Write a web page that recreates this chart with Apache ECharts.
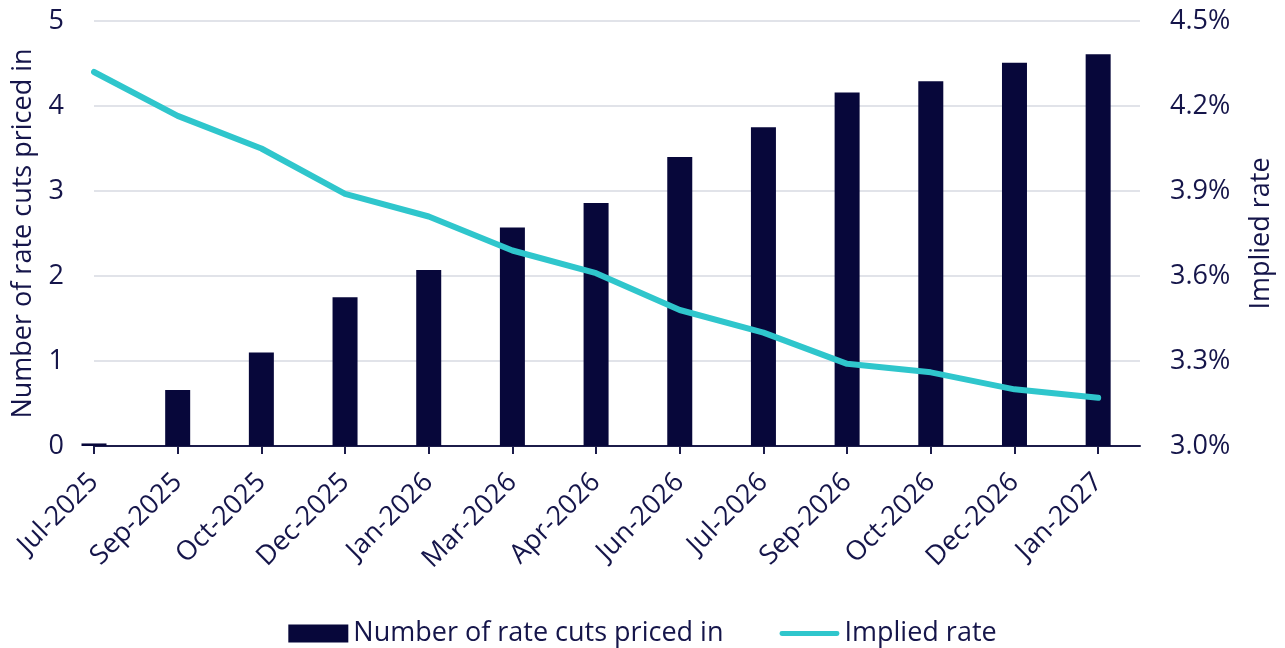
<!DOCTYPE html>
<html>
<head>
<meta charset="utf-8">
<script src="https://cdn.jsdelivr.net/npm/echarts@6/dist/echarts.min.js"></script>
<style>html,body{margin:0;padding:0;background:#fff}#c{width:1285px;height:648px}</style>
</head>
<body>
<div id="c"></div>
<script>
const categories = ['Jul-2025','Sep-2025','Oct-2025','Dec-2025','Jan-2026','Mar-2026','Apr-2026','Jun-2026','Jul-2026','Sep-2026','Oct-2026','Dec-2026','Jan-2027'];
const rateCuts = [0.03, 0.66, 1.10, 1.75, 2.07, 2.57, 2.86, 3.40, 3.75, 4.16, 4.29, 4.51, 4.61];
const impliedRate = [4.32, 4.165, 4.05, 3.89, 3.81, 3.69, 3.61, 3.48, 3.40, 3.29, 3.26, 3.20, 3.17];
const leftTicks = [0, 1, 2, 3, 4, 5];
const rightTicks = [3.0, 3.3, 3.6, 3.9, 4.2, 4.5];

const navy = '#07073a';
const textColor = '#15154a';
const teal = '#2fc6cc';
const font = 'Open Sans';
const fs = 27;
const idx = categories.map((c, i) => i);

const chart = echarts.init(document.getElementById('c'));
chart.setOption({
  animation: false,
  textStyle: { fontFamily: font, color: textColor },
  grid: { left: 94, right: 145, top: 21, bottom: 202, containLabel: false },
  legend: {
    top: 615,
    left: 'center',
    itemWidth: 60,
    itemHeight: 18,
    itemGap: 56,
    symbolKeepAspect: true,
    textStyle: { fontFamily: font, fontSize: fs, color: textColor },
    data: [
      { name: 'Number of rate cuts priced in', icon: 'rect' },
      { name: 'Implied rate', icon: 'path://M4,0 L96,0 A4,4 0 0 1 96,8 L4,8 A4,4 0 0 1 4,0 Z', itemStyle: { color: teal } }
    ]
  },
  xAxis: {
    type: 'value',
    min: 0,
    max: 12.5,
    interval: 1,
    axisLine: { show: true, lineStyle: { color: '#1c1c4a', width: 2 } },
    axisTick: { show: true, length: 8, customValues: idx, lineStyle: { color: '#1c1c4a', width: 2 } },
    axisLabel: {
      customValues: idx,
      rotate: 45,
      margin: 32,
      fontSize: fs,
      fontFamily: font,
      color: textColor,
      formatter: v => categories[Math.round(v)] || ''
    },
    splitLine: { show: false }
  },
  yAxis: [
    {
      type: 'value',
      min: 0, max: 5, interval: 1,
      name: 'Number of rate cuts priced in',
      nameLocation: 'middle',
      nameGap: 57,
      nameTextStyle: { fontSize: fs, color: textColor, fontFamily: font },
      axisLine: { show: false },
      axisTick: { show: false },
      axisLabel: { fontSize: fs, margin: 30, color: textColor, fontFamily: font },
      splitLine: { show: true, lineStyle: { color: '#d7dae2', width: 1.5 } }
    },
    {
      type: 'value',
      min: 3.0, max: 4.5, interval: 0.3,
      name: 'Implied rate',
      nameLocation: 'middle',
      nameGap: 108,
      nameTextStyle: { fontSize: fs, color: textColor, fontFamily: font },
      axisLine: { show: false },
      axisTick: { show: false },
      axisLabel: { fontSize: fs, margin: 30, color: textColor, fontFamily: font, formatter: v => v.toFixed(1) + '%' },
      splitLine: { show: false }
    }
  ],
  series: [
    {
      name: 'Number of rate cuts priced in',
      type: 'bar',
      yAxisIndex: 0,
      barWidth: 25,
      clip: true,
      itemStyle: { color: navy },
      data: rateCuts.map((v, i) => [i, v])
    },
    {
      name: 'Implied rate',
      type: 'line',
      yAxisIndex: 1,
      symbol: 'none',
      clip: true,
      lineStyle: { color: teal, width: 6, cap: 'round', join: 'round' },
      itemStyle: { color: teal },
      data: impliedRate.map((v, i) => [i, v])
    }
  ]
});
</script>
</body>
</html>
